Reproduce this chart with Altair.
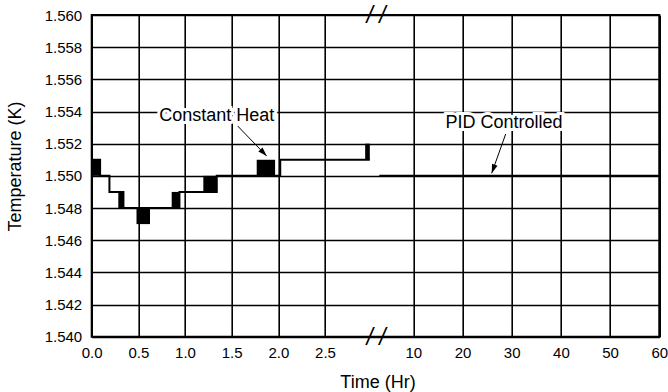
import altair as alt
import pandas as pd

# ---------------- data (hours, kelvin) ----------------
# constant-heat trace, step-after line
step_t = [0.0, 0.09, 0.19, 0.34, 0.94, 1.34, 2.02, 2.98]
step_T = [1.551, 1.550, 1.549, 1.548, 1.549, 1.550, 1.551, 1.551]
# intervals where the reading toggles between two adjacent levels (drawn filled)
blk_t0 = [0.0, 0.285, 0.48, 0.857, 1.196, 1.768, 2.93]
blk_t1 = [0.09, 0.34, 0.625, 0.94, 1.34, 1.965, 2.98]
blk_lo = [1.550, 1.548, 1.547, 1.548, 1.549, 1.550, 1.551]
blk_hi = [1.551, 1.549, 1.548, 1.549, 1.550, 1.551, 1.552]
# PID controlled trace
pid_t = [3.1, 60.0]
pid_T = [1.550, 1.550]

y_ticks = [1.540, 1.542, 1.544, 1.546, 1.548, 1.550, 1.552, 1.554, 1.556, 1.558, 1.560]
x_ticks_left = [0.0, 0.5, 1.0, 1.5, 2.0, 2.5]
x_ticks_right = [10, 20, 30, 40, 50, 60]

ann_text = ["Constant Heat", "PID Controlled"]
ann_t = [1.34, 28.44]
ann_T = [1.5537, 1.5533]
arr_t0 = [1.564, 28.78]
arr_T0 = [1.5531, 1.5526]
arr_t1 = [1.875, 25.94]
arr_T1 = [1.55123, 1.55016]
arr_angle = [136, 200]

# ---------------- broken x axis (scale definition) ----------------
LEFT_END = 3.046      # hours at the break, left segment
RIGHT_START = 2.42    # hours at the break, right segment
KL = 93.33            # units per hour, left segment
KR = 4.92             # units per hour, right segment
BREAK_U = LEFT_END * KL
TOTAL_U = BREAK_U + (60 - RIGHT_START) * KR


def u_of(t):
    return t * KL if t <= LEFT_END else BREAK_U + (t - RIGHT_START) * KR


def u_expr(field):
    return (f"datum.{field} <= {LEFT_END} ? datum.{field} * {KL} : "
            f"{BREAK_U} + (datum.{field} - {RIGHT_START}) * {KR}")


W = TOTAL_U
H = 321.7
PAD_L, PAD_T = 91.7, 15
FONT = "Liberation Sans"

common_axis = dict(
    grid=True, gridColor="black", gridWidth=1.6, gridOpacity=1,
    ticks=False, domain=False,
    labelFont=FONT, labelFontSize=15, labelColor="black",
    titleFont=FONT, titleFontSize=18, titleFontWeight="normal", titleColor="black",
)

xscale = alt.Scale(domain=[0, TOTAL_U], nice=False, zero=False)
yscale = alt.Scale(domain=[1.540, 1.560], nice=False, zero=False)

xaxis = alt.Axis(
    values=[u_of(t) for t in x_ticks_left + x_ticks_right],
    labelExpr=(f"datum.value < {BREAK_U} ? format(datum.value / {KL}, '.1f') : "
               f"format({RIGHT_START} + (datum.value - {BREAK_U}) / {KR}, '.0f')"),
    title="Time (Hr)", titleX=285.8, titleY=46, titleBaseline="middle", titleAlign="center",
    labelPadding=9, labelFlush=False, labelOverlap=False,
    **common_axis,
)
yaxis = alt.Axis(
    values=y_ticks, format=".3f", title="Temperature (K)",
    titleX=-76.4, titleY=151, titleBaseline="middle", titleAlign="center", titleAngle=270,
    labelPadding=10,
    **common_axis,
)

X = lambda f: alt.X(f, scale=xscale, axis=xaxis)
Y = lambda f: alt.Y(f, scale=yscale, axis=yaxis)

step_df = pd.DataFrame({"t": step_t, "T": step_T})
blk_df = pd.DataFrame({"t0": blk_t0, "t1": blk_t1, "lo": blk_lo, "hi": blk_hi})
pid_df = pd.DataFrame({"t": pid_t, "T": pid_T})
ann_df = pd.DataFrame({"label": ann_text, "t": ann_t, "T": ann_T})
arr_df = pd.DataFrame({"t0": arr_t0, "T0": arr_T0, "t1": arr_t1, "T1": arr_T1, "ang": arr_angle})
brk_df = pd.DataFrame({"u": [BREAK_U, BREAK_U], "T": [1.560, 1.540]})

step = alt.Chart(step_df).transform_calculate(u=u_expr("t")).mark_line(
    interpolate="step-after", color="black", strokeWidth=2
).encode(x=X("u:Q"), y=Y("T:Q"))

blocks = alt.Chart(blk_df).transform_calculate(u0=u_expr("t0"), u1=u_expr("t1")).mark_rect(
    color="black"
).encode(x=X("u0:Q"), x2="u1:Q", y=Y("lo:Q"), y2="hi:Q")

pid = alt.Chart(pid_df).transform_calculate(u=u_expr("t")).mark_line(
    color="black", strokeWidth=2
).encode(x=X("u:Q"), y=Y("T:Q"))

halo = alt.Chart(ann_df).transform_calculate(u=u_expr("t")).mark_text(
    font=FONT, fontSize=18, align="center", baseline="middle",
    stroke="white", strokeWidth=6, color="white"
).encode(x=X("u:Q"), y=Y("T:Q"), text="label:N")

ann = alt.Chart(ann_df).transform_calculate(u=u_expr("t")).mark_text(
    font=FONT, fontSize=18, align="center", baseline="middle", color="black"
).encode(x=X("u:Q"), y=Y("T:Q"), text="label:N")

arrows = alt.Chart(arr_df).transform_calculate(u0=u_expr("t0"), u1=u_expr("t1")).mark_rule(
    color="black", strokeWidth=1
).encode(x=X("u0:Q"), x2="u1:Q", y=Y("T0:Q"), y2="T1:Q")

heads = alt.Chart(arr_df).transform_calculate(u1=u_expr("t1")).mark_point(
    shape="M0,0L0.65,2L-0.65,2Z", filled=True, size=81, color="black", opacity=1
).encode(x=X("u1:Q"), y=Y("T1:Q"), angle=alt.Angle("ang:Q", scale=None))

brk = alt.Chart(brk_df).mark_text(
    text="/ /", font=FONT, fontSize=23, fontStyle="italic", align="center", baseline="middle",
    color="black", dy=1
).encode(x=X("u:Q"), y=Y("T:Q"))

chart = alt.layer(step, blocks, pid, halo, ann, arrows, heads, brk).properties(
    width=W, height=H,
    autosize=alt.AutoSizeParams(type="none"),
    padding={"left": PAD_L, "top": PAD_T, "right": 668 - PAD_L - W, "bottom": 392 - PAD_T - H},
    background="white",
).configure_view(
    stroke="black", strokeWidth=2
)

chart.save("out.html", embed_options={"renderer": "svg", "actions": False})
